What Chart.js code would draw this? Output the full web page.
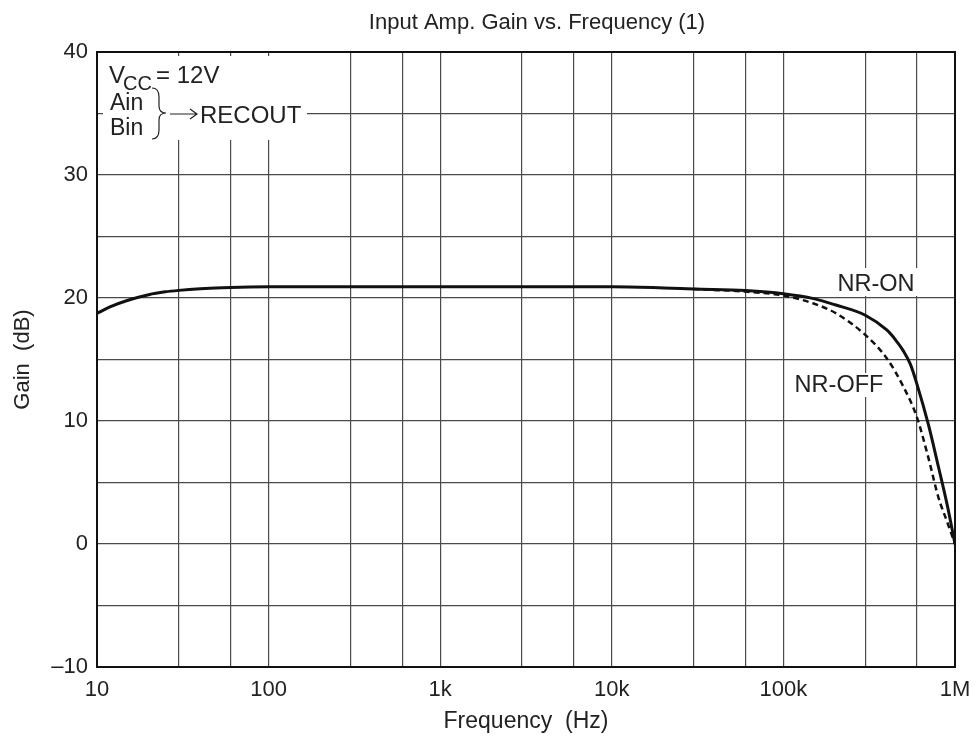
<!DOCTYPE html>
<html>
<head>
<meta charset="utf-8">
<title>Input Amp. Gain vs. Frequency (1)</title>
<script src="https://cdn.jsdelivr.net/npm/chart.js@4.4.1/dist/chart.umd.min.js"></script>
<style>
  html, body { margin: 0; padding: 0; background: #fff; }
  #wrap { width: 976px; height: 740px; position: relative; }
</style>
</head>
<body>
<div id="wrap"><canvas id="gainChart" width="976" height="740"></canvas></div>
<script>
// data
const freqOn = [10, 12, 15, 20, 25, 30, 40, 60, 100, 1000, 10000, 20000, 30000, 60000, 100000, 150000, 200000, 300000, 400000, 450000, 500000, 550000, 600000, 700000, 800000, 900000, 1000000];
const gainOn = [18.75, 19.3, 19.8, 20.27, 20.5, 20.62, 20.75, 20.86, 20.91, 20.92, 20.92, 20.82, 20.73, 20.6, 20.35, 19.95, 19.45, 18.6, 17.4, 16.6, 15.7, 14.6, 13.0, 9.7, 6.3, 3.2, 0];
const freqOff = [30000, 60000, 100000, 150000, 200000, 300000, 400000, 500000, 600000, 700000, 800000, 900000, 1000000];
const gainOff = [20.73, 20.52, 20.2, 19.55, 18.8, 17.0, 15.1, 12.8, 10.3, 7.0, 3.8, 1.8, 0];

const xGridValues = [10, 30, 60, 100, 300, 600, 1000, 3000, 6000, 10000, 30000, 60000, 100000, 300000, 600000, 1000000];
const xTickValues = [10, 100, 1000, 10000, 100000, 1000000];
const xTickLabels = ['10', '100', '1k', '10k', '100k', '1M'];
const yTickValues = [-10, 0, 10, 20, 30, 40];
const yTickLabels = ['\u201310', '0', '10', '20', '30', '40'];

const FONT = '"Liberation Sans", Arial, Helvetica, sans-serif';
const INK = '#222';

const toPoints = (xs, ys) => xs.map((x, i) => ({ x: x, y: ys[i] }));

// title, white label boxes, brace/arrow and frame
const extras = {
  id: 'extras',
  beforeDatasetsDraw(chart) {
    const c = chart.ctx;
    c.save();
    c.fillStyle = '#fff';
    c.fillRect(103, 56, 204, 84);
    c.fillRect(832, 268, 86, 28);
    c.fillRect(790, 373, 98, 24);
    c.restore();
  },
  afterDatasetsDraw(chart) {
    const c = chart.ctx;
    const a = chart.chartArea;
    c.save();
    // frame
    c.strokeStyle = '#111';
    c.lineWidth = 2;
    c.strokeRect(a.left, a.top, a.right - a.left, a.bottom - a.top);

    c.fillStyle = INK;
    c.textBaseline = 'alphabetic';
    c.textAlign = 'left';
    c.font = '24px ' + FONT;
    c.fillText('V', 109, 83);
    c.font = '20px ' + FONT;
    c.fillText('CC', 123, 90);
    c.font = '24px ' + FONT;
    c.fillText('= 12V', 156, 83);
    c.font = '23px ' + FONT;
    c.fillText('Ain', 110, 110);
    c.fillText('Bin', 110, 135);
    c.font = '24px ' + FONT;
    c.fillText('RECOUT', 200, 123);

    // brace
    c.strokeStyle = INK;
    c.lineWidth = 1.2;
    c.beginPath();
    c.moveTo(152, 88);
    c.quadraticCurveTo(159, 88, 159, 97);
    c.lineTo(159, 106);
    c.quadraticCurveTo(159, 113, 166, 113);
    c.quadraticCurveTo(159, 113, 159, 120);
    c.lineTo(159, 130);
    c.quadraticCurveTo(159, 139, 152, 139);
    c.stroke();
    // arrow
    c.beginPath();
    c.moveTo(170, 114);
    c.lineTo(196, 114);
    c.moveTo(190, 109);
    c.lineTo(197, 114);
    c.lineTo(190, 119);
    c.stroke();

    // curve labels
    c.textAlign = 'center';
    c.textBaseline = 'middle';
    c.font = '23.5px ' + FONT;
    c.fillText('NR-ON', 876, 285);
    c.fillText('NR-OFF', 839, 386);

    // title
    c.font = '22px ' + FONT;
    c.fillText('Input Amp. Gain vs. Frequency (1)', 537, 23);
    c.restore();
  }
};

new Chart(document.getElementById('gainChart'), {
  type: 'line',
  data: {
    datasets: [
      {
        label: 'NR-ON',
        data: toPoints(freqOn, gainOn),
        borderColor: '#111',
        borderWidth: 3,
        pointRadius: 0,
        fill: false,
        cubicInterpolationMode: 'monotone'
      },
      {
        label: 'NR-OFF',
        data: toPoints(freqOff, gainOff),
        borderColor: '#111',
        borderWidth: 2.5,
        borderDash: [6, 4],
        pointRadius: 0,
        fill: false,
        cubicInterpolationMode: 'monotone'
      }
    ]
  },
  options: {
    responsive: false,
    animation: false,
    devicePixelRatio: 1,
    layout: { padding: { top: 52, right: 21, bottom: 0, left: 0 } },
    plugins: {
      legend: { display: false },
      title: { display: false },
      tooltip: { enabled: false }
    },
    scales: {
      x: {
        type: 'logarithmic',
        min: 10,
        max: 1000000,
        afterBuildTicks: function(scale) {
          scale.ticks = xGridValues.map(v => ({ value: v }));
        },
        afterFit: function(scale) {
          scale.height = 73;
          scale.paddingLeft = 0;
          scale.paddingRight = 0;
        },
        grid: { color: '#4a4a4a', lineWidth: 1.2, drawTicks: false },
        border: { display: false },
        ticks: {
          autoSkip: false,
          maxRotation: 0,
          padding: 10,
          color: INK,
          font: { family: FONT, size: 22 },
          callback: function(value) {
            const i = xTickValues.indexOf(value);
            return i >= 0 ? xTickLabels[i] : '';
          }
        },
        title: {
          display: true,
          text: 'Frequency  (Hz)',
          color: INK,
          font: { family: FONT, size: 23 },
          padding: { top: 0, bottom: 5 }
        }
      },
      y: {
        min: -10,
        max: 40,
        afterFit: function(scale) { scale.width = 97; },
        grid: { color: '#4a4a4a', lineWidth: 1.2, drawTicks: false },
        border: { display: false },
        ticks: {
          stepSize: 5,
          padding: 9,
          color: INK,
          font: { family: FONT, size: 22 },
          callback: function(value) {
            const i = yTickValues.indexOf(value);
            return i >= 0 ? yTickLabels[i] : '';
          }
        },
        title: {
          display: true,
          text: 'Gain  (dB)',
          color: INK,
          font: { family: FONT, size: 22 },
          padding: { top: 10, bottom: 0 }
        }
      }
    }
  },
  plugins: [extras]
});
</script>
</body>
</html>
